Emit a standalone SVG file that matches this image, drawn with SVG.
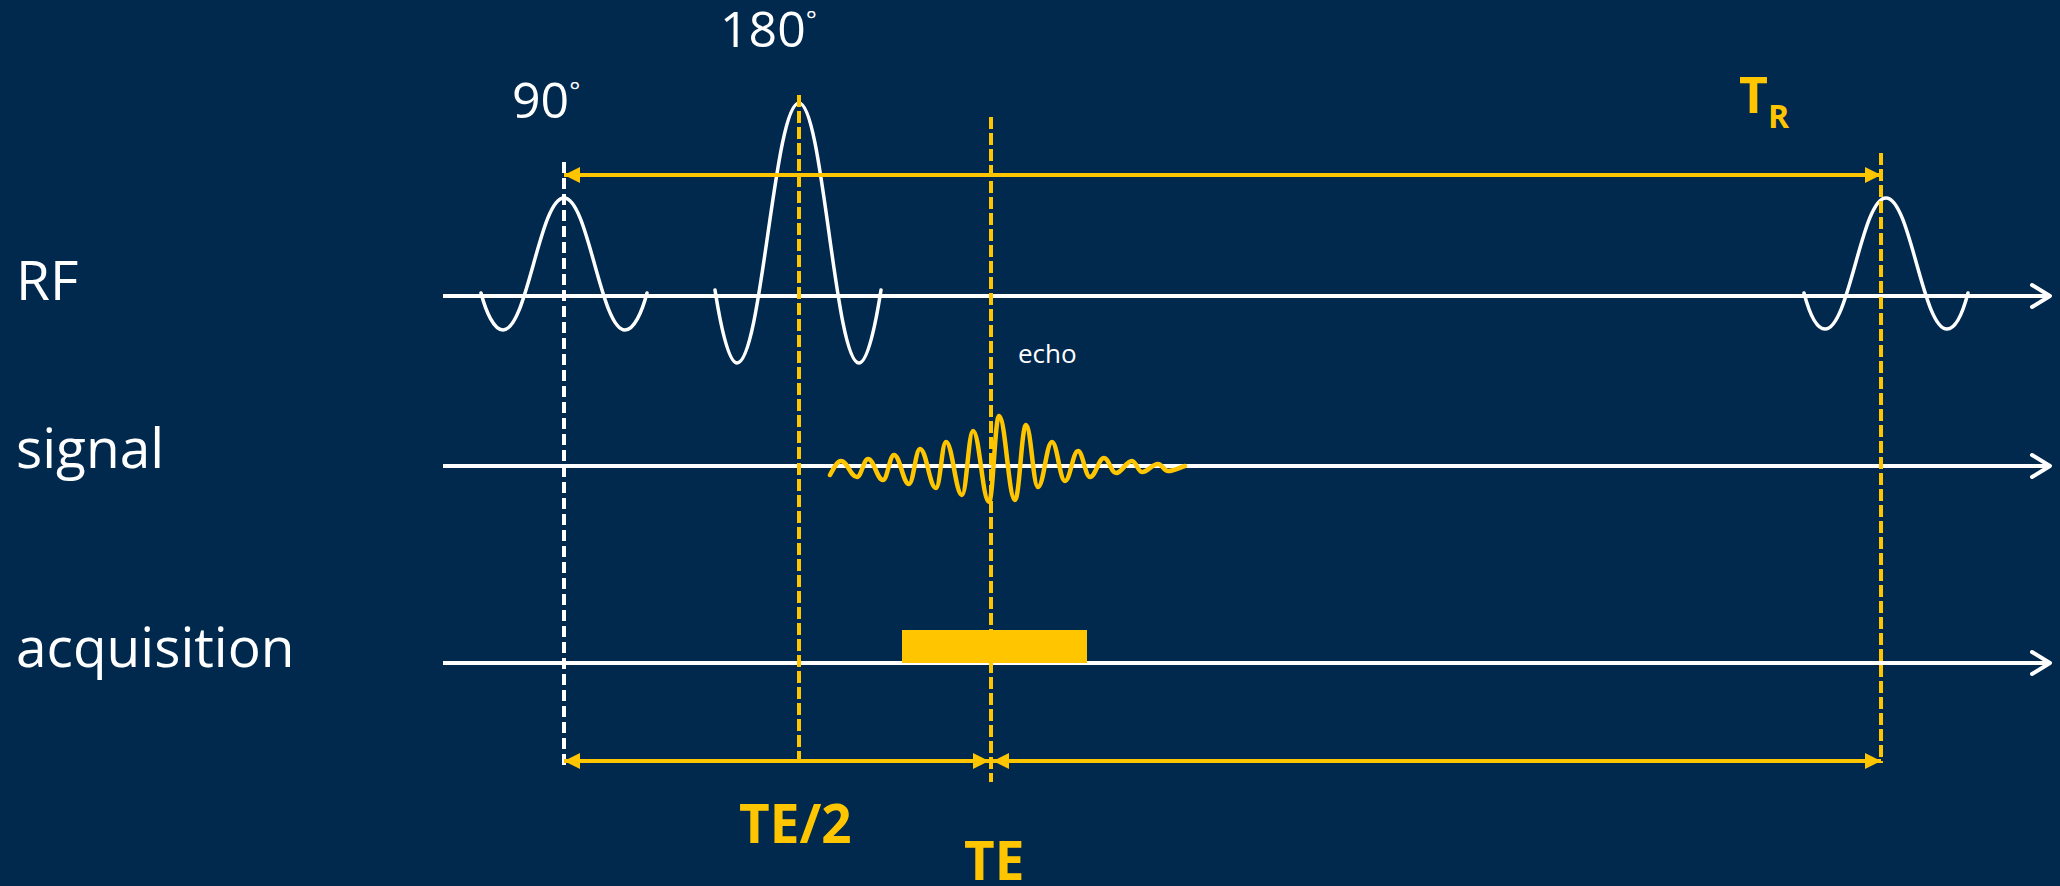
<svg xmlns="http://www.w3.org/2000/svg" width="2060" height="886" viewBox="0 0 2060 886">
<defs>
<style>
.lbl{font-family:"Open Sans","Liberation Sans",sans-serif;fill:#ffffff}
.ylbl{font-family:"Open Sans","Liberation Sans",sans-serif;font-weight:bold;fill:#FFC600}
.axis{stroke:#ffffff;stroke-width:4;fill:none}
.chev{stroke:#ffffff;stroke-width:4;fill:none;stroke-linecap:round;stroke-linejoin:round}
.pulse{stroke:#ffffff;stroke-width:3.5;fill:none;stroke-linecap:round}
.wdash{stroke:#ffffff;stroke-width:4;stroke-dasharray:11 5;fill:none}
.ydash{stroke:#FFC600;stroke-width:4;stroke-dasharray:12 4;fill:none}
.dim{stroke:#FFC600;stroke-width:4;fill:none}
.sig{stroke:#FFC600;stroke-width:4.5;fill:none;stroke-linecap:round;stroke-linejoin:round}
</style>
<marker id="ah" markerUnits="userSpaceOnUse" markerWidth="18" markerHeight="16" refX="16" refY="8" orient="auto-start-reverse" viewBox="0 0 18 16">
<path d="M0,0 L16,8 L0,16 Z" fill="#FFC600"/>
</marker>
</defs>
<rect x="0" y="0" width="2060" height="886" fill="#01294E"/>

<g id="labels">
<text class="lbl" x="16" y="300" font-size="55">RF</text>
<text class="lbl" x="16" y="468" font-size="55">signal</text>
<text class="lbl" x="16" y="667" font-size="55">acquisition</text>
</g>

<g id="axes">
<line class="axis" x1="443" y1="296" x2="2049" y2="296"/>
<polyline class="chev" points="2032,285 2050,296 2032,307"/>
<line class="axis" x1="443" y1="466" x2="2049" y2="466"/>
<polyline class="chev" points="2032,455 2050,466 2032,477"/>
<line class="axis" x1="443" y1="663" x2="2049" y2="663"/>
<polyline class="chev" points="2032,652 2050,663 2032,674"/>
</g>

<g id="acquisition-window">
<rect x="902" y="630" width="185" height="33" fill="#FFC600"/>
</g>

<g id="rf-pulses">
<path id="pulse90" class="pulse" d="M481,293 C486,312 494,330 503,330 C527.4,330 539.6,198 564,198 C588.4,198 600.6,330 625,330 C634,330 642,312 647,293"/>
<path id="pulse180" class="pulse" d="M715,290 C720,322 728,363 737,363 C761.8,363 774.2,103 799,103 C823,103 835,363 859,363 C868,363 876,322 881,290"/>
<path id="pulseTR" class="pulse" d="M1804,293 C1809,312 1816,329 1825,329 C1849.4,329 1861.6,198 1886,198 C1910.4,198 1922.6,329 1947,329 C1956,329 1963,312 1968,293"/>
</g>

<g id="echo-signal">
<path class="sig" d="M830,475 C834,468 837,461 841,461 C847.4,461 850.6,477 857,477 C861.4,477 863.6,459 868,459 C874,459 877,480 883,480 C887.4,480 889.6,455 894,455 C900,455 903,484 909,484 C913.4,484 915.6,449 920,449 C926.4,449 929.6,488 936,488 C940,488 942,442 946,442 C952.4,442 955.6,495 962,495 C966.4,495 968.6,431 973,431 C979.4,431 982.6,502 989,502 C993,502 995,416 999,416 C1005.4,416 1008.6,500 1015,500 C1019.4,500 1021.6,425 1026,425 C1030.8,425 1033.2,487 1038,487 C1043.6,487 1046.4,442 1052,442 C1057.2,442 1059.8,481 1065,481 C1070.2,481 1072.8,451 1078,451 C1082.8,451 1085.2,477 1090,477 C1095.6,477 1098.4,458 1104,458 C1108.8,458 1111.2,473 1116,473 C1122.4,473 1125.6,461 1132,461 C1136,461 1138,472 1142,472 C1148.4,472 1151.6,464 1158,464 C1162,464 1164,471 1168,471 C1175,471 1180,467 1185,466"/>
</g>

<g id="connectors">
<line class="wdash" x1="564" y1="162" x2="564" y2="765"/>
<line class="ydash" x1="799" y1="95" x2="799" y2="761"/>
<line class="ydash" x1="991" y1="117" x2="991" y2="782"/>
<line class="ydash" x1="1881" y1="153" x2="1881" y2="763"/>
<line class="dim" x1="564" y1="175" x2="1881" y2="175" marker-start="url(#ah)" marker-end="url(#ah)"/>
<line class="dim" x1="564" y1="761" x2="989" y2="761" marker-start="url(#ah)" marker-end="url(#ah)"/>
<line class="dim" x1="993" y1="761" x2="1881" y2="761" marker-start="url(#ah)" marker-end="url(#ah)"/>
</g>

<g id="angle-labels">
<text class="lbl" x="512" y="118" font-size="50">90<tspan font-size="26" dy="-18">°</tspan></text>
<text class="lbl" x="720" y="47" font-size="50">180<tspan font-size="26" dy="-18">°</tspan></text>
<text class="lbl" x="1018" y="363" font-size="26">echo</text>
</g>

<g id="timing-labels">
<text class="ylbl" x="1739" y="113" font-size="50">T<tspan font-size="32" dy="15">R</tspan></text>
<text class="ylbl" x="739" y="843" font-size="53">TE/2</text>
<text class="ylbl" x="964" y="880" font-size="53">TE</text>
</g>
</svg>
